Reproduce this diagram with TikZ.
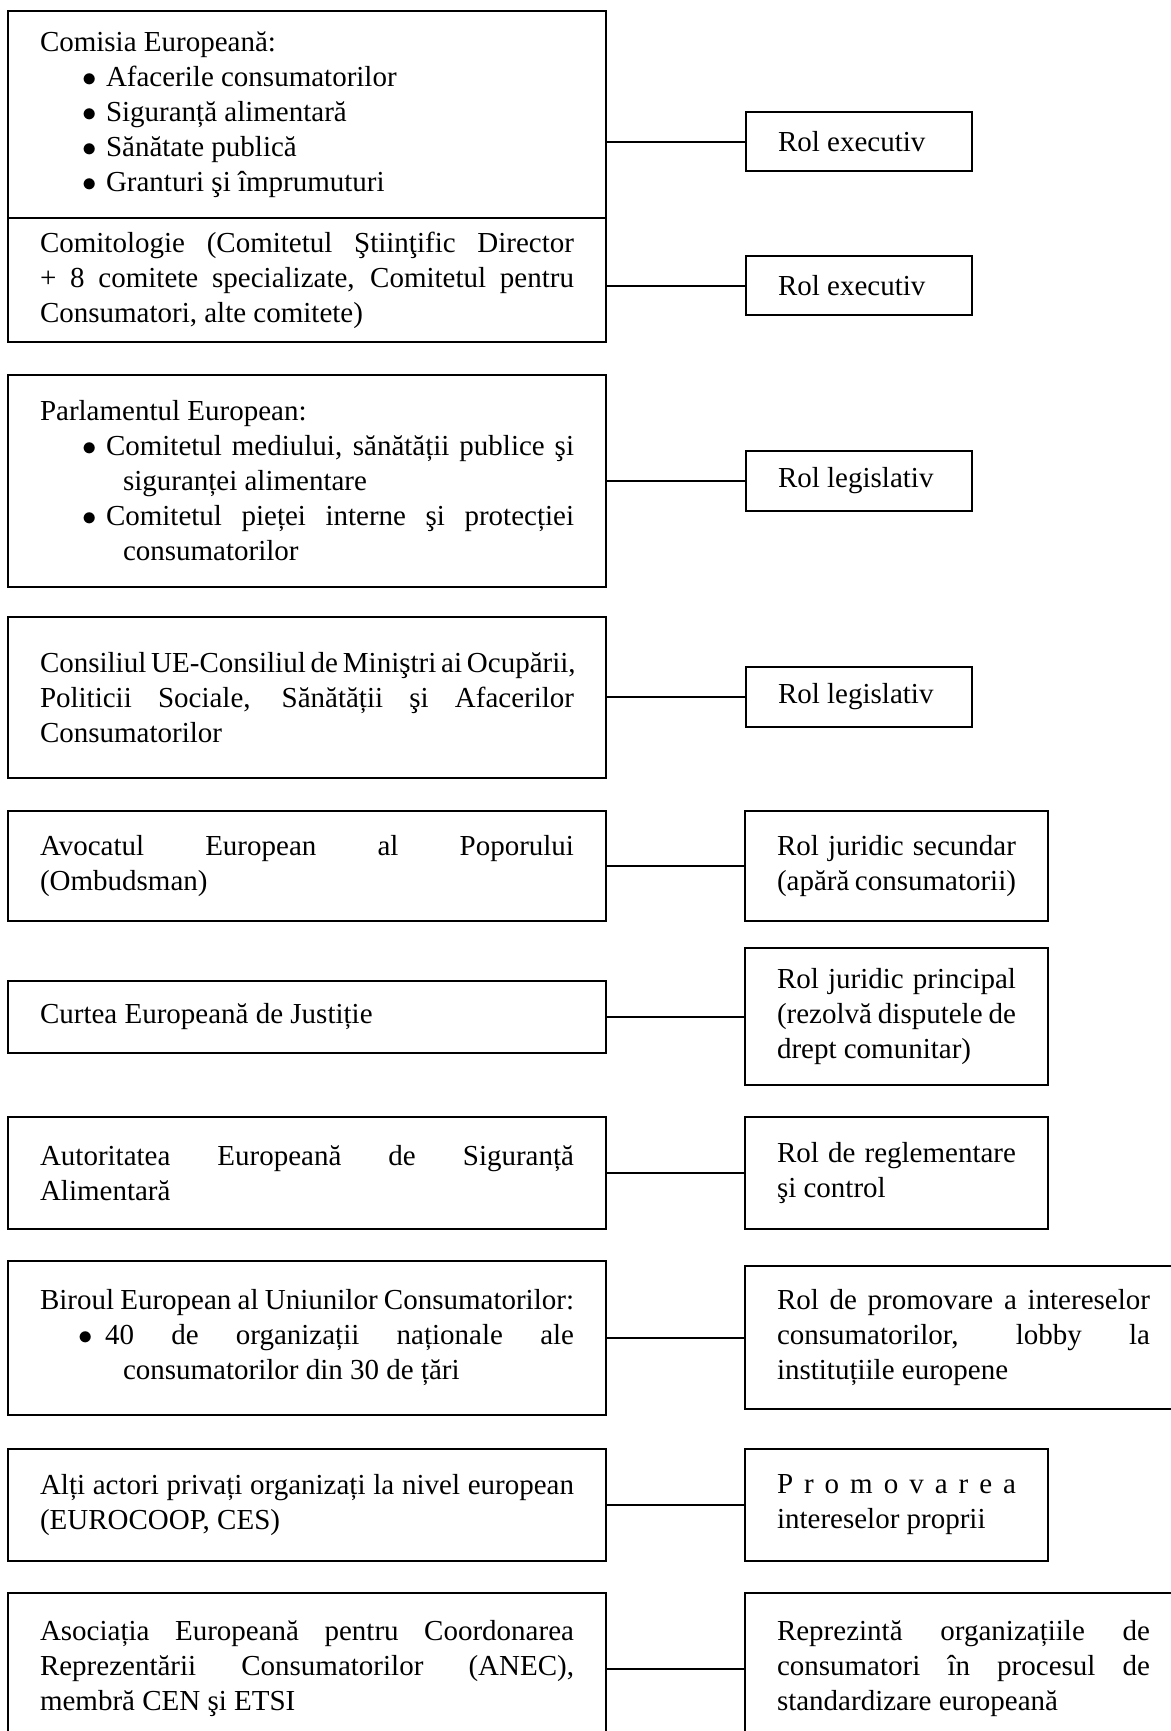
\documentclass[tikz,border=0pt]{standalone}
\usepackage{fontspec}
\setmainfont{Liberation Serif}
\newcommand{\jst}[2][267pt]{\leavevmode\hbox to #1{\spaceskip=0pt\xspaceskip=0pt #2}}
\newcommand{\bul}{\makebox[12pt][l]{$\bullet$}}
\tikzset{
  actor/.style={draw, line width=1pt, anchor=north west, outer sep=0pt,
    inner xsep=16pt, inner ysep=0pt, text width=267pt, align=justify,
    font=\fontsize{14.5}{17.5}\selectfont,
    execute at begin node={\spaceskip=0pt\xspaceskip=0pt}},
  rol/.style={actor, text width=119.5pt},
  rolmic/.style={actor, text width=81pt},
  rolmare/.style={actor, text width=186.5pt},
  leg/.style={line width=1pt}
}
\begin{document}
\begin{tikzpicture}[x=0.5pt, y=-0.5pt]
  \useasboundingbox (0,0) rectangle (1171,1731);
  \clip (0,0) rectangle (1171,1731);
  % institutii (stanga)
  \node[actor, minimum height=103.5pt] (comisia) at (8,11) {Comisia Europeană:\\
    \hspace*{21pt}\bul Afacerile consumatorilor\\
    \hspace*{21pt}\bul Siguranță alimentară\\
    \hspace*{21pt}\bul Sănătate publică\\
    \hspace*{21pt}\bul Granturi şi împrumuturi};
  \node[actor, minimum height=62pt] (comitologie) at (8,218)
    {\jst{Comitologie (Comitetul Ştiinţific Director}\\
     \jst{+ 8 comitete specializate, Comitetul pentru}\\
     Consumatori, alte comitete)};
  \node[actor, minimum height=106pt] (parlament) at (8,375) {Parlamentul European:\\
    \jst{\hspace*{21pt}\bul Comitetul mediului, sănătății publice şi}\\
    \hspace*{41.5pt}siguranței alimentare\\
    \jst{\hspace*{21pt}\bul Comitetul pieței interne şi protecției}\\
    \hspace*{41.5pt}consumatorilor};
  \node[actor, minimum height=80.5pt] (consiliu) at (8,617)
    {\jst{Consiliul UE-Consiliul de Miniştri ai Ocupării,}\\
     \jst{Politicii Sociale, Sănătății şi Afacerilor}\\
     Consumatorilor};
  \node[actor, minimum height=55pt] (avocat) at (8,811)
    {\jst{Avocatul European al Poporului}\\(Ombudsman)};
  \node[actor, minimum height=36pt] (curte) at (8,981) {Curtea Europeană de Justiție};
  \node[actor, minimum height=56pt] (efsa) at (8,1117)
    {\jst{Autoritatea Europeană de Siguranță}\\Alimentară};
  \node[actor, minimum height=77pt] (beuc) at (8,1261)
    {\jst{Biroul European al Uniunilor Consumatorilor:}\\
     \jst{\hspace*{19pt}\makebox[13.5pt][l]{$\bullet$}40 de organizații naționale ale}\\
     \hspace*{41.5pt}consumatorilor din 30 de țări};
  \node[actor, minimum height=56pt] (privati) at (8,1449)
    {\jst{Alți actori privați organizați la nivel european}\\(EUROCOOP, CES)};
  \node[actor, minimum height=76pt] (anec) at (8,1593)
    {\jst{Asociația Europeană pentru Coordonarea}\\
     \jst{Reprezentării Consumatorilor (ANEC),}\\
     membră CEN şi ETSI};
  % roluri (dreapta)
  \node[rolmic, minimum height=29.5pt] (r1) at (746,112) {Rol executiv};
  \node[rolmic, minimum height=29.5pt] (r2) at (746,256) {Rol executiv};
  \node[rolmic, minimum height=30pt] (r3) at (746,451) {Rol legislativ};
  \node[rolmic, minimum height=30pt] (r4) at (746,667) {Rol legislativ};
  \node[rol, minimum height=55pt] (r5) at (745,811)
    {\jst[119.5pt]{Rol juridic secundar}\\\jst[119.5pt]{(apără consumatorii)}};
  \node[rol, minimum height=68.5pt] (r6) at (745,948)
    {\jst[119.5pt]{Rol juridic principal}\\\jst[119.5pt]{(rezolvă disputele de}\\drept comunitar)};
  \node[rol, minimum height=56pt] (r7) at (745,1117)
    {\jst[119.5pt]{Rol de reglementare}\\şi control};
  \node[rolmare, minimum height=71.5pt] (r8) at (745,1266)
    {\jst[186.5pt]{Rol de promovare a intereselor}\\
     \jst[186.5pt]{consumatorilor, lobby la}\\
     instituțiile europene};
  \node[rol, minimum height=56pt] (r9) at (745,1449)
    {\jst[119.5pt]{P r o m o v a r e a}\\intereselor proprii};
  \node[rolmare, minimum height=76pt] (r10) at (745,1593)
    {\jst[186.5pt]{Reprezintă organizațiile de}\\
     \jst[186.5pt]{consumatori în procesul de}\\
     standardizare europeană};
  % legaturi
  \draw[leg] (r1.west) -- (r1.west -| comisia.east);
  \draw[leg] (r2.west) -- (r2.west -| comitologie.east);
  \draw[leg] (r3.west) -- (r3.west -| parlament.east);
  \draw[leg] (r4.west) -- (r4.west -| consiliu.east);
  \draw[leg] (r5.west) -- (r5.west -| avocat.east);
  \draw[leg] (r6.west) -- (r6.west -| curte.east);
  \draw[leg] (r7.west) -- (r7.west -| efsa.east);
  \draw[leg] (r8.west) -- (r8.west -| beuc.east);
  \draw[leg] (r9.west) -- (r9.west -| privati.east);
  \draw[leg] (r10.west) -- (r10.west -| anec.east);
\end{tikzpicture}
\end{document}
